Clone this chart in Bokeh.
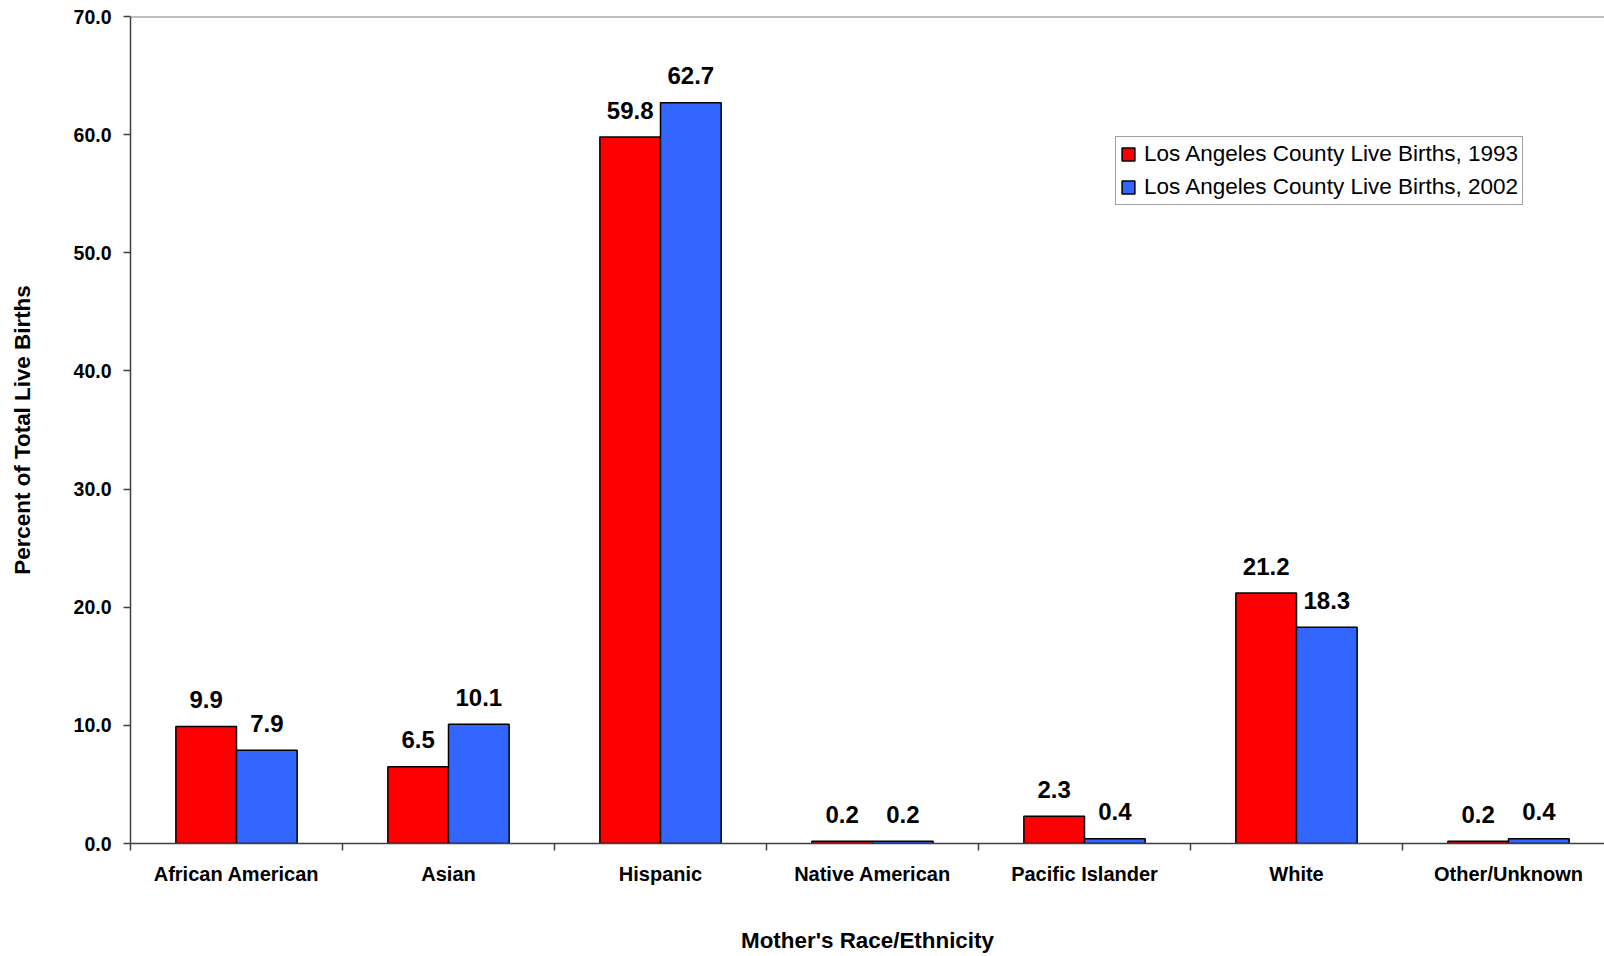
from bokeh.plotting import figure
from bokeh.models import (ColumnDataSource, FixedTicker, NumeralTickFormatter, Span,
                          Legend, LegendItem, Range1d, LinearAxis)
from bokeh.core.properties import value
from bokeh.embed import file_html
from bokeh.resources import INLINE
import numpy as np

categories = ["African American", "Asian", "Hispanic", "Native American",
              "Pacific Islander", "White", "Other/Unknown"]
births_1993 = [9.9, 6.5, 59.8, 0.2, 2.3, 21.2, 0.2]
births_2002 = [7.9, 10.1, 62.7, 0.2, 0.4, 18.3, 0.4]
series_names = ["Los Angeles County Live Births, 1993", "Los Angeles County Live Births, 2002"]
y_ticks = [0, 10, 20, 30, 40, 50, 60, 70]

FONT = "Liberation Sans"
BAR_W = 0.286
idx = np.arange(len(categories)) + 0.5

src1 = ColumnDataSource(dict(x=idx - BAR_W / 2, top=births_1993,
                             lab=[f"{v:.1f}" for v in births_1993]))
src2 = ColumnDataSource(dict(x=idx + BAR_W / 2, top=births_2002,
                             lab=[f"{v:.1f}" for v in births_2002]))

p = figure(width=1604, height=956, output_backend="svg", toolbar_location=None,
           x_range=Range1d(0, 1474 / 212), y_range=Range1d(0, 70),
           min_border_left=130, min_border_right=0, min_border_top=16, min_border_bottom=113,
           x_axis_type=None)
p.outline_line_color = None
p.xgrid.visible = False
p.ygrid.visible = False
p.background_fill_color = "white"
p.border_fill_color = "white"

r1 = p.vbar(x="x", top="top", width=BAR_W, bottom=0, source=src1,
            fill_color="#FF0000", line_color="black", line_width=1.5)
r2 = p.vbar(x="x", top="top", width=BAR_W, bottom=0, source=src2,
            fill_color="#3366FF", line_color="black", line_width=1.5)

for s in (src1, src2):
    p.text(x="x", y="top", text="lab", source=s, text_align="center",
           text_baseline="alphabetic", y_offset=-27,
           text_font=value(FONT), text_font_style="bold", text_font_size="24px",
           text_color="black")

p.add_layout(Span(location=70, dimension="width", line_color="#808080", line_width=2))

# x axis
xaxis = LinearAxis(ticker=FixedTicker(ticks=list(idx),
                                      minor_ticks=list(range(len(categories) + 1))))
xaxis.major_label_overrides = {float(v): c for v, c in zip(idx, categories)}
xaxis.major_tick_out = 0
xaxis.major_tick_in = 0
xaxis.minor_tick_out = 7
xaxis.minor_tick_in = 0
xaxis.minor_tick_line_color = "#404040"
xaxis.minor_tick_line_width = 1.5
xaxis.axis_line_color = "#404040"
xaxis.axis_line_width = 1.5
xaxis.major_label_text_font = FONT
xaxis.major_label_text_font_style = "bold"
xaxis.major_label_text_font_size = "20px"
xaxis.major_label_text_color = "black"
xaxis.major_label_standoff = 12
xaxis.axis_label = "Mother's Race/Ethnicity"
xaxis.axis_label_text_font = FONT
xaxis.axis_label_text_font_style = "bold"
xaxis.axis_label_text_font_size = "22.4px"
xaxis.axis_label_text_color = "black"
xaxis.axis_label_standoff = 40
p.add_layout(xaxis, "below")

# y axis
ya = p.yaxis[0]
ya.ticker = FixedTicker(ticks=y_ticks, minor_ticks=[])
ya.formatter = NumeralTickFormatter(format="0.0")
ya.major_tick_out = 7
ya.major_tick_in = 0
ya.minor_tick_out = 0
ya.major_tick_line_color = "#404040"
ya.major_tick_line_width = 1.5
ya.axis_line_color = "#404040"
ya.axis_line_width = 1.5
ya.major_label_text_font = FONT
ya.major_label_text_font_style = "bold"
ya.major_label_text_font_size = "19.5px"
ya.major_label_text_color = "black"
ya.major_label_standoff = 12
ya.axis_label = "Percent of Total Live Births"
ya.axis_label_text_font = FONT
ya.axis_label_text_font_style = "bold"
ya.axis_label_text_font_size = "22.4px"
ya.axis_label_text_color = "black"
ya.axis_label_standoff = 36

legend = Legend(items=[LegendItem(label=series_names[0], renderers=[r1]),
                       LegendItem(label=series_names[1], renderers=[r2])],
                location=(985, 638))
legend.label_text_font = FONT
legend.label_text_font_size = "22.5px"
legend.label_text_color = "black"
legend.glyph_width = 16
legend.glyph_height = 16
legend.label_standoff = 8
legend.label_height = 26
legend.spacing = 7
legend.padding = 4
legend.margin = 0
legend.border_line_color = "#404040"
legend.border_line_width = 1
legend.background_fill_alpha = 1
p.add_layout(legend, "center")

open("out.html", "w").write(file_html(p, INLINE))
